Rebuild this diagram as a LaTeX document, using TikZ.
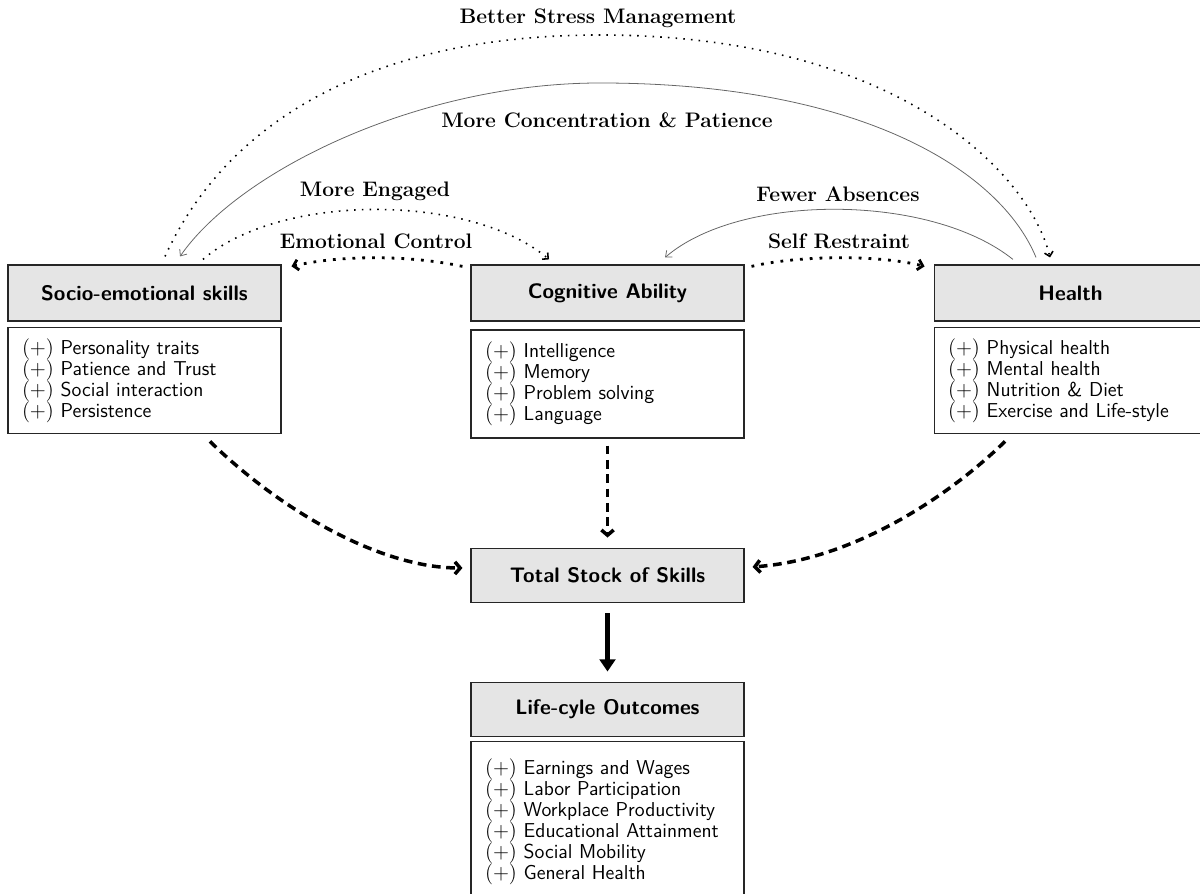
\documentclass[tikz,border=0pt]{standalone}
\usepackage{fontspec}
\usetikzlibrary{arrows.meta}
\begin{document}
\begin{tikzpicture}[x=0.5715pt,y=-0.5715pt,
  head/.style={draw=black!85, fill=gray!20, line width=0.6pt, minimum width=156pt, minimum height=32pt, inner sep=0pt, font=\sffamily\bfseries\large},
  body/.style={draw=black!85, fill=white, line width=0.6pt, minimum width=156pt, text width=140pt, inner xsep=8pt, inner ysep=0pt, align=left, font=\sffamily\fontsize{11.5}{12}\selectfont},
  lab/.style={font=\bfseries\large, anchor=base, inner sep=0pt},
  thindot/.style={line width=0.9pt, dash pattern=on 0.9pt off 3.5pt, -{Straight Barb[length=2.5pt,width=5pt]}},
  thickdot/.style={line width=1.6pt, dash pattern=on 1.6pt off 4pt, -{Straight Barb[length=2.8pt,width=6pt]}},
  thinline/.style={draw=black!60, line width=0.45pt, -{Straight Barb[length=3pt,width=5pt]}},
  thickdash/.style={line width=2pt, dash pattern=on 5pt off 3.2pt, -{Straight Barb[length=3pt,width=7pt]}},
  mainarrow/.style={line width=2.6pt, -{Triangle[length=7pt,width=9pt]}}
]
\useasboundingbox (0,0) rectangle (1200,894);
\clip (0,0) rectangle (1200,894);

% boxes
\node[head] (soch) at (144.5,293) {Socio-emotional skills};
\node[body, minimum height=61pt] (socb) at (144.5,380.5) {$(+)$ Personality traits\\ $(+)$ Patience and Trust\\ $(+)$ Social interaction\\ $(+)$ Persistence};

\node[head] (cogh) at (607.5,293) {Cognitive Ability};
\node[body, minimum height=61.7pt] (cogb) at (607.5,384) {$(+)$ Intelligence\\ $(+)$ Memory\\ $(+)$ Problem solving\\ $(+)$ Language};

\node[head] (hh) at (1070.5,293) {Health};
\node[body, minimum height=61pt] (hb) at (1070.5,380.5) {$(+)$ Physical health\\ $(+)$ Mental health\\ $(+)$ Nutrition \& Diet\\ $(+)$ Exercise and Life-style};

\node[head, minimum height=31.4pt] (tot) at (607.5,575.5) {Total Stock of Skills};

\node[head, minimum height=31.4pt] (life) at (607.5,709.5) {Life-cyle Outcomes};
\node[body, minimum height=92pt] (lifeb) at (607.5,822) {$(+)$ Earnings and Wages\\ $(+)$ Labor Participation\\ $(+)$ Workplace Productivity\\ $(+)$ Educational Attainment\\ $(+)$ Social Mobility\\ $(+)$ General Health};

% labels
\node[lab] (l1) at (598,24) {Better Stress Management};
\node[lab] (l2) at (607,128) {More Concentration \& Patience};
\node[lab] (l3) at (375,197) {More Engaged};
\node[lab] (l4) at (376,249) {Emotional Control};
\node[lab] (l5) at (838,202) {Fewer Absences};
\node[lab] (l6) at (839,249) {Self Restraint};

% top arcs
\draw[thindot] ([xshift=11.7pt,yshift=4.6pt]soch.north) .. controls (230,115) and (380,35) .. (600,35)
   .. controls (900,35) and (1030,175) .. ([xshift=-11.7pt,yshift=4pt]hh.north);
\draw[thinline] ([xshift=-19.7pt,yshift=4pt]hh.north) .. controls (1000,170) and (860,83) .. (600,83)
   .. controls (420,83) and (240,170) .. ([xshift=20.3pt,yshift=4.6pt]soch.north);
\draw[thindot] ([xshift=33.4pt,yshift=2.9pt]soch.north) .. controls (280,193) and (470,193) .. ([xshift=-33.4pt,yshift=2.9pt]cogh.north);
\draw[thinline] ([xshift=-32.9pt,yshift=2.9pt]hh.north) .. controls (930,193) and (740,193) .. ([xshift=32.9pt,yshift=4pt]cogh.north);
\draw[thickdot] ([xshift=-4.6pt,yshift=-1.1pt]cogh.north west) .. controls (410,255) and (340,255) .. ([xshift=5.7pt,yshift=-1.1pt]soch.north east);
\draw[thickdot] ([xshift=4pt,yshift=-1.1pt]cogh.north east) .. controls (800,255) and (880,255) .. ([xshift=-5.1pt,yshift=-1.1pt]hh.north west);

% to total stock
\draw[thickdash] ([xshift=37.4pt,yshift=-4pt]socb.south) .. controls (280,510) and (380,568) .. ([xshift=-4.6pt,yshift=4.3pt]tot.west);
\draw[thickdash] ([xshift=-37.4pt,yshift=-4pt]hb.south) .. controls (945,500) and (850,560) .. ([xshift=4.6pt,yshift=4.9pt]tot.east);
\draw[thickdash] ([yshift=-4pt]cogb.south) -- ([yshift=5.7pt]tot.north);

% to outcomes
\draw[mainarrow] ([yshift=-5.7pt]tot.south) -- ([yshift=5.7pt]life.north);
\end{tikzpicture}
\end{document}
